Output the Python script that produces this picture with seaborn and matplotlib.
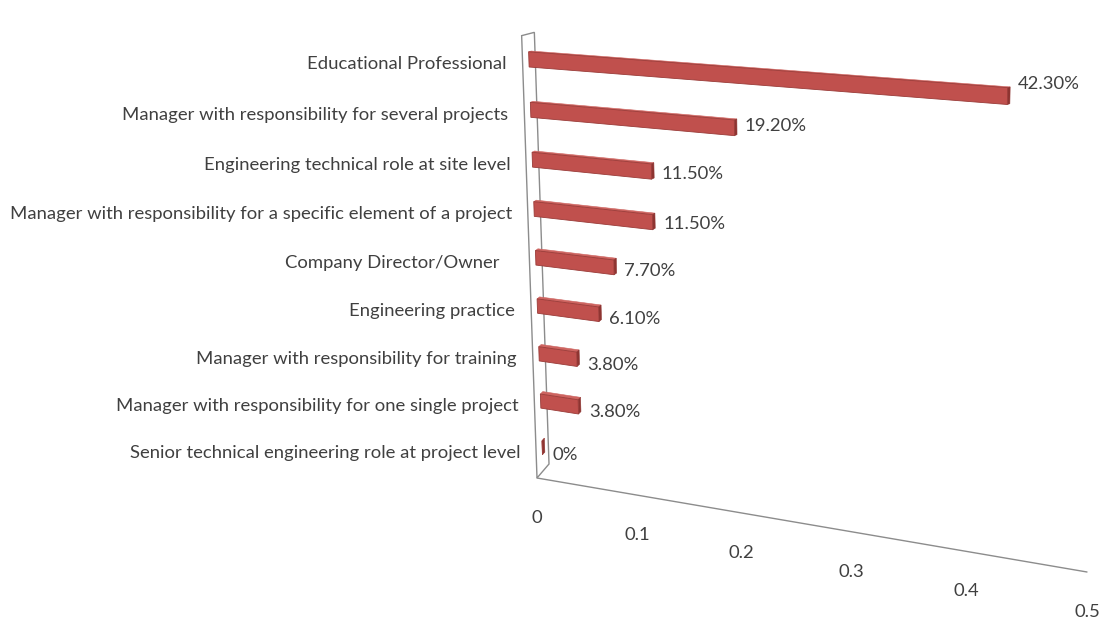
import numpy as np
import pandas as pd
import matplotlib
matplotlib.use("Agg")
import matplotlib.pyplot as plt
from matplotlib.patches import Polygon
from matplotlib.lines import Line2D
from matplotlib.transforms import Transform, IdentityTransform
import seaborn as sns

# ---- data -----------------------------------------------------------------
roles = [
    "Educational Professional",
    "Manager with responsibility for several projects",
    "Engineering technical role at site level",
    "Manager with responsibility for a specific element of a project",
    "Company Director/Owner   ",
    "Engineering practice",
    "Manager with responsibility for training",
    "Manager with responsibility for one single project",
    "Senior technical engineering role at project level",
]
shares = [0.423, 0.192, 0.115, 0.115, 0.077, 0.061, 0.038, 0.038, 0.0]
share_labels = ["42.30%", "19.20%", "11.50%", "11.50%", "7.70%",
                "6.10%", "3.80%", "3.80%", "0%"]
tick_values = [0.0, 0.1, 0.2, 0.3, 0.4, 0.5]
tick_labels = ["0", "0.1", "0.2", "0.3", "0.4", "0.5"]

# ---- layout / style --------------------------------------------------------
W, H = 1111, 621
ROW_TOP, ROW_BOTTOM = -0.5, len(roles) - 0.5
V_MAX = 0.5
# where the corners of the bar plane land on the canvas (x right, y down)
PLANE_SRC = [(0.0, ROW_TOP), (V_MAX, ROW_TOP), (0.0, ROW_BOTTOM), (V_MAX, ROW_BOTTOM)]
PLANE_DST = [(528, 34), (1107, 75), (543, 471), (1093, 565)]
# front-to-back depth vector of the chart box at the top and bottom rows
DEPTH_TOP = np.array([12.7, -3.3])
DEPTH_BOTTOM = np.array([12.0, -14.0])
BAR_DEPTH = 0.2

RED_FRONT = "#C0504D"
RED_TOP = "#CD6460"
RED_END = "#8E3431"
RED_EDGE = "#9A3B38"
GRID_GREY = "#8C8C8C"
TEXT = "#404040"
FONT = ["Lato", "DejaVu Sans"]
FONT_SIZE = 13.3


def homography(src, dst):
    rows, rhs = [], []
    for (x, y), (u, v) in zip(src, dst):
        rows.append([x, y, 1, 0, 0, 0, -u * x, -u * y]); rhs.append(u)
        rows.append([0, 0, 0, x, y, 1, -v * x, -v * y]); rhs.append(v)
    h = np.linalg.solve(np.array(rows, float), np.array(rhs, float))
    return np.append(h, 1.0).reshape(3, 3)


class PerspectiveTransform(Transform):
    """Maps (value, row) into canvas pixels through a plane homography."""
    input_dims = 2
    output_dims = 2
    is_separable = False
    has_inverse = False

    def __init__(self, matrix, height):
        super().__init__()
        self._m = matrix
        self._height = height

    def transform_non_affine(self, values):
        pts = np.atleast_2d(np.asarray(values, dtype=float))
        hom = np.column_stack([pts, np.ones(len(pts))]) @ self._m.T
        out = hom[:, :2] / hom[:, 2:3]
        out[:, 1] = self._height - out[:, 1]
        return out


persp = PerspectiveTransform(homography(PLANE_SRC, PLANE_DST), H)


def to_disp(v, row):
    return persp.transform_non_affine([[v, row]])[0]


def depth_disp(row):
    t = (row - ROW_TOP) / (ROW_BOTTOM - ROW_TOP)
    d = (1 - t) * DEPTH_TOP + t * DEPTH_BOTTOM
    return np.array([d[0], -d[1]])


def front(v, row):
    return to_disp(v, row) - depth_disp(row) / 2


def back(v, row):
    return to_disp(v, row) + depth_disp(row) / 2


sns.set_theme(style="white")
plt.rcParams["font.family"] = FONT

fig = plt.figure(figsize=(W / 100, H / 100), dpi=100)
fig.patch.set_facecolor("white")
ax = fig.add_axes([0, 0, 1, 1])

df = pd.DataFrame({"role": roles, "share": shares})
sns.barplot(data=df, x="share", y="role", orient="h", color=RED_FRONT,
            saturation=1, width=0.3, ax=ax, zorder=3)
ax.set_xlim(0, V_MAX)
ax.set_ylim(ROW_BOTTOM, ROW_TOP)
ax.set_axis_off()

ident = IdentityTransform()

# side wall of the chart box
wall = [front(0, ROW_TOP), back(0, ROW_TOP), back(0, ROW_BOTTOM), front(0, ROW_BOTTOM)]
ax.add_patch(Polygon(wall, closed=True, fill=False, edgecolor=GRID_GREY,
                     linewidth=1.0, transform=ident, clip_on=False, zorder=1))
# front edge of the floor, carrying the value axis
f0, f1 = front(0, ROW_BOTTOM), front(V_MAX, ROW_BOTTOM)
ax.add_line(Line2D([f0[0], f1[0]], [f0[1], f1[1]], color=GRID_GREY,
                   linewidth=1.0, transform=ident, clip_on=False, zorder=1))

for tv, tl in zip(tick_values, tick_labels):
    p = front(tv, ROW_BOTTOM)
    ax.text(p[0], p[1] - 40, tl, ha="center", va="center", fontsize=FONT_SIZE,
            color=TEXT, transform=ident)

# bars: move seaborn's rectangles into the perspective plane and give them depth
for bar, lab in zip(ax.patches, share_labels):
    bar.set_transform(persp)
    bar.set_clip_on(False)
    bar.set_edgecolor(RED_EDGE)
    bar.set_linewidth(0.6)
    x0, w = bar.get_x(), bar.get_width()
    y0, h = bar.get_y(), bar.get_height()
    row = y0 + h / 2
    d = BAR_DEPTH * depth_disp(row)
    tl, tr = to_disp(x0, y0), to_disp(x0 + w, y0)
    br = to_disp(x0 + w, y0 + h)
    ax.add_patch(Polygon([tl, tr, tr + d, tl + d], closed=True, facecolor=RED_TOP,
                         edgecolor=RED_TOP, linewidth=0.4, transform=ident,
                         clip_on=False, zorder=2))
    ax.add_patch(Polygon([tr, br, br + d, tr + d], closed=True, facecolor=RED_END,
                         edgecolor=RED_END, linewidth=0.4, transform=ident,
                         clip_on=False, zorder=2))
    end = to_disp(x0 + w, row)
    ax.text(end[0] + d[0] + 8, end[1] - (5 - 44 * w) - 7, lab, ha="left",
            va="baseline", fontsize=FONT_SIZE, color=TEXT, transform=ident)

# category names to the left of the wall
for i, role in enumerate(roles):
    p = to_disp(0, i)
    ax.text(p[0] - 22, p[1] - 10, role, ha="right", va="baseline",
            fontsize=FONT_SIZE, color=TEXT, transform=ident)

fig.savefig("out.png", dpi=100, facecolor="white")
